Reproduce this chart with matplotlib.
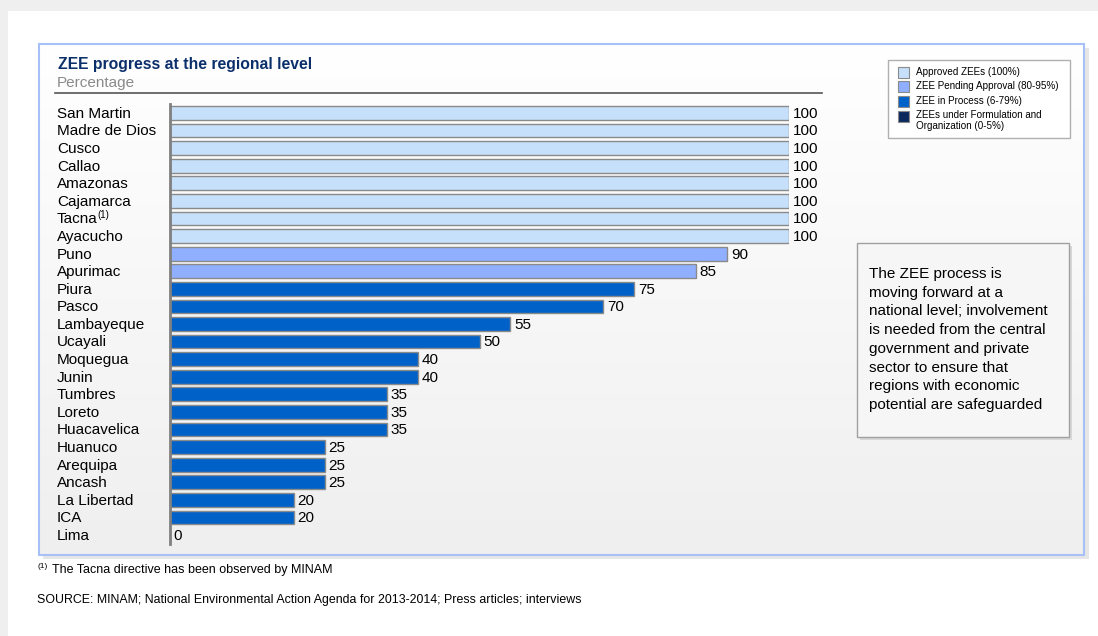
import numpy as np
import matplotlib.pyplot as plt
from matplotlib.patches import Rectangle
from matplotlib.colors import LinearSegmentedColormap

plt.rcParams['font.family'] = ['Liberation Sans', 'DejaVu Sans']

# Data
regions = ['San Martin', 'Madre de Dios', 'Cusco', 'Callao', 'Amazonas', 'Cajamarca',
           'Tacna', 'Ayacucho', 'Puno', 'Apurimac', 'Piura', 'Pasco', 'Lambayeque',
           'Ucayali', 'Moquegua', 'Junin', 'Tumbres', 'Loreto', 'Huacavelica',
           'Huanuco', 'Arequipa', 'Ancash', 'La Libertad', 'ICA', 'Lima']
progress = [100, 100, 100, 100, 100, 100, 100, 100, 90, 85, 75, 70, 55,
            50, 40, 40, 35, 35, 35, 25, 25, 25, 20, 20, 0]
legend_labels = ['Approved ZEEs (100%)', 'ZEE Pending Approval (80-95%)',
                 'ZEE in Process (6-79%)', 'ZEEs under Formulation and\nOrganization (0-5%)']
legend_colors = ['#c6dffa', '#90afff', '#0062c8', '#0a2a5e']

W, H = 1098, 636


def color_for(v):
    if v == 100:
        return legend_colors[0]
    if v >= 80:
        return legend_colors[1]
    if v >= 6:
        return legend_colors[2]
    return legend_colors[3]


fig = plt.figure(figsize=(W / 100, H / 100), dpi=100)
fig.patch.set_facecolor('#efefef')

# full-figure canvas in pixel coords
pg = fig.add_axes([0, 0, 1, 1], zorder=0)
pg.set_xlim(0, W)
pg.set_ylim(H, 0)
pg.axis('off')


def box(x0, y0, x1, y1, **kw):
    pg.add_patch(Rectangle((x0, y0), x1 - x0, y1 - y0, **kw))


box(8, 11, W + 5, H + 5, facecolor='white', edgecolor='none', zorder=0)
# frame shadow
box(43, 48, 1089, 559, facecolor='#e6e6e6', edgecolor='none', zorder=1)
# frame gradient fill
fade = LinearSegmentedColormap.from_list('fade', ['#ffffff', '#efefef'])
pg.imshow(np.linspace(0, 1, 200).reshape(-1, 1), cmap=fade, aspect='auto',
          extent=[39, 1084, 555, 44], zorder=2)
box(39, 44, 1084, 555, facecolor='none', edgecolor='#a8c0f8', lw=1.5, zorder=3)
pg.set_xlim(0, W)
pg.set_ylim(H, 0)

# title block
pg.text(58, 65, 'ZEE progress at the regional level', fontsize=11.3,
        fontweight='bold', color='#0b2f6b', va='center', zorder=5)
pg.text(57, 83, 'Percentage', fontsize=11, color='#8a8a8a', va='center', zorder=5)
pg.plot([55, 822], [93, 93], color='#555555', lw=1.2, zorder=5)

# legend box
box(888, 60, 1070, 138, facecolor='white', edgecolor='#b0b0b0', lw=1, zorder=4)
leg_y = [72, 86, 101, 116]
for yy, lab, c in zip(leg_y, legend_labels, legend_colors):
    box(898, yy - 5.5, 909, yy + 5.5, facecolor=c, edgecolor='#8a8a8a', lw=0.8, zorder=5)
    pg.text(916, yy - 6 if '\n' in lab else yy, lab, fontsize=7.1,
            va='top' if '\n' in lab else 'center', ha='left', linespacing=1.15, zorder=5)

# comment box
box(860, 246, 1072, 440, facecolor='#d8d8d8', edgecolor='none', zorder=4)
box(857, 243, 1069, 437, facecolor='#f6f6f6', edgecolor='#a0a0a0', lw=1, zorder=5)
pg.text(869, 267, 'The ZEE process is\nmoving forward at a\nnational level; involvement\n'
        'is needed from the central\ngovernment and private\nsector to ensure that\n'
        'regions with economic\npotential are safeguarded',
        fontsize=11, va='top', ha='left', linespacing=1.43, zorder=6)

# footnotes
pg.text(37, 566, '(1)', fontsize=6, va='center', ha='left', zorder=5)
pg.text(52, 570, 'The Tacna directive has been observed by MINAM', fontsize=9,
        va='center', ha='left', zorder=5)
pg.text(37, 600, 'SOURCE: MINAM; National Environmental Action Agenda for 2013-2014; '
        'Press articles; interviews', fontsize=8.9, va='center', ha='left', zorder=5)

# bar axes
n = len(regions)
row = (535 - 113) / (n - 1)
top = 113 - row / 2
bottom = 535 + row / 2
ax = fig.add_axes([170 / W, 1 - bottom / H, (789 - 170) / W, (bottom - top) / H], zorder=2)
ax.patch.set_alpha(0)
y = np.arange(n)
ax.barh(y, progress, height=0.78, color=[color_for(v) for v in progress],
        edgecolor='#8a8a8a', linewidth=1.0)
ax.set_xlim(0, 100)
ax.set_ylim(n - 0.5, -0.5)
for s in ['top', 'right', 'bottom']:
    ax.spines[s].set_visible(False)
ax.spines['left'].set_color('#808080')
ax.spines['left'].set_linewidth(2)
ax.set_xticks([])
ax.set_yticks([])

for i, v in enumerate(progress):
    ax.text(v + 0.6, i + 0.05, str(v), fontsize=11, va='center', ha='left')

for i, name in enumerate(regions):
    t = ax.text(-(170 - 57) / 619 * 100, i + 0.05, name, fontsize=11, va='center',
                ha='left', clip_on=False)
    if name == 'Tacna':
        ax.annotate('(1)', xy=(1, 1), xycoords=t, xytext=(-0.3, 1.5), textcoords='offset points',
                    fontsize=7, va='top', ha='left')

fig.savefig('out.png', dpi=100, facecolor=fig.get_facecolor())
